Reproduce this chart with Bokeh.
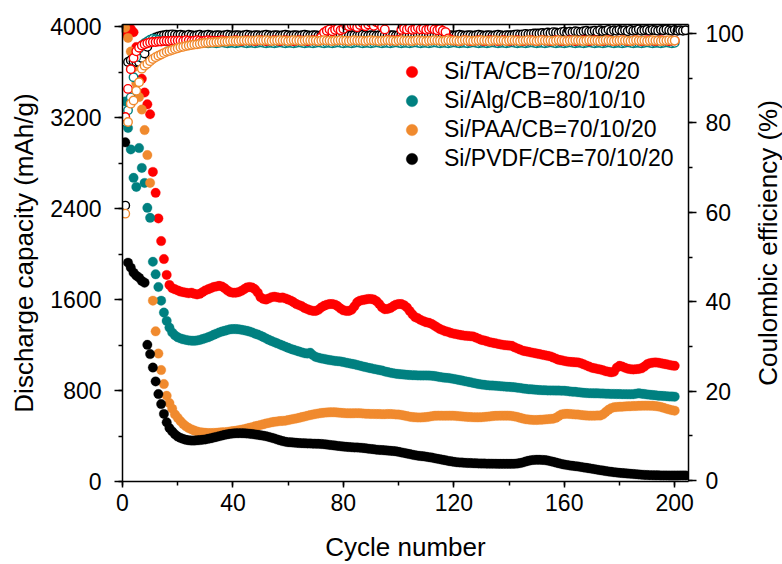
from bokeh.plotting import figure
from bokeh.layouts import row
from bokeh.models import (Range1d, LinearAxis, SingleIntervalTicker, Legend, LegendItem,
                          CustomJSTickFormatter, FixedTicker)
from bokeh.embed import file_html
from bokeh.resources import INLINE

labels = ["Si/TA/CB=70/10/20", "Si/Alg/CB=80/10/10", "Si/PAA/CB=70/10/20", "Si/PVDF/CB=70/10/20"]
colors = ["#FF0000", "#008080", "#F08A2E", "#000000"]

# Discharge capacity (mAh/g), one value per cycle
ta_cap = [
    3940, 3990, 3980, 3950, 3820, 3680, 3540, 3420, 3316, 3229,
    2722, 2538, 2313, 2114, 1956, 1816, 1728, 1700, 1690, 1680,
    1670, 1665, 1660, 1655, 1660, 1650, 1645, 1650, 1665, 1680,
    1690, 1700, 1710, 1715, 1720, 1715, 1700, 1680, 1665, 1660,
    1660, 1665, 1675, 1690, 1705, 1710, 1705, 1690, 1660, 1620,
    1605, 1600, 1610, 1620, 1625, 1620, 1615, 1617, 1610, 1600,
    1590, 1575, 1560, 1550, 1540, 1525, 1515, 1505, 1500, 1500,
    1510, 1530, 1545, 1555, 1560, 1560, 1555, 1540, 1520, 1505,
    1500, 1500, 1510, 1540, 1575, 1590, 1595, 1600, 1605, 1605,
    1600, 1585, 1560, 1530, 1515, 1517, 1525, 1540, 1555, 1560,
    1560, 1550, 1530, 1500, 1470, 1445, 1435, 1420, 1410, 1400,
    1395, 1385, 1370, 1355, 1340, 1330, 1320, 1315, 1305, 1300,
    1295, 1290, 1285, 1282, 1280, 1278, 1275, 1265, 1255, 1245,
    1240, 1232, 1225, 1220, 1215, 1210, 1205, 1200, 1197, 1195,
    1193, 1180, 1170, 1160, 1150, 1145, 1140, 1135, 1130, 1125,
    1120, 1115, 1110, 1105, 1100, 1090, 1080, 1070, 1065, 1060,
    1055, 1052, 1050, 1048, 1047, 1040, 1030, 1020, 1010, 1000,
    995, 990, 985, 978, 970, 965, 960, 965, 1000, 1017,
    1010, 1000, 992, 988, 985, 988, 990, 995, 1010, 1030,
    1040, 1045, 1047, 1045, 1040, 1035, 1030, 1025, 1020, 1017,
]
alg_cap = [
    3342, 3108, 2920, 2670, 2590, 2932, 2757, 2625, 2406, 2318,
    1932, 1822, 1710, 1590, 1485, 1412, 1353, 1310, 1285, 1268,
    1258, 1250, 1245, 1240, 1238, 1237, 1240, 1245, 1252, 1260,
    1268, 1278, 1290, 1300, 1310, 1318, 1325, 1332, 1338, 1340,
    1340, 1338, 1335, 1330, 1325, 1318, 1310, 1300, 1292, 1282,
    1270, 1258, 1246, 1235, 1225, 1215, 1205, 1195, 1185, 1175,
    1166, 1158, 1150, 1142, 1135, 1128, 1125, 1132, 1110, 1095,
    1088, 1082, 1078, 1072, 1068, 1064, 1060, 1058, 1055, 1050,
    1045, 1040, 1035, 1030, 1024, 1018, 1012, 1006, 1000, 995,
    990, 985, 980, 975, 968, 962, 957, 952, 948, 945,
    942, 940, 938, 936, 935, 934, 933, 932, 932, 932,
    931, 930, 927, 923, 918, 915, 912, 910, 906, 902,
    897, 892, 887, 882, 877, 872, 867, 862, 857, 853,
    850, 847, 845, 843, 842, 840, 838, 836, 834, 832,
    830, 828, 825, 822, 818, 815, 812, 810, 808, 806,
    804, 803, 802, 801, 800, 800, 799, 799, 798, 798,
    795, 792, 790, 788, 785, 783, 780, 778, 777, 776,
    775, 775, 774, 773, 772, 771, 770, 770, 769, 769,
    768, 768, 767, 767, 768, 772, 775, 772, 769, 766,
    763, 760, 758, 755, 753, 752, 750, 748, 747, 746,
]
paa_cap = [
    3990, 3900, 3780, 3640, 3500, 3380, 3270, 3090, 2870, 2625,
    1590, 1320, 1125, 980, 857, 754, 690, 640, 590, 560,
    530, 505, 485, 470, 458, 448, 440, 434, 430, 428,
    426, 426, 427, 428, 430, 432, 434, 436, 440, 443,
    446, 450, 455, 460, 466, 472, 478, 485, 491, 497,
    503, 510, 515, 520, 525, 528, 531, 533, 535, 540,
    545, 550, 555, 560, 566, 572, 578, 584, 589, 594,
    598, 602, 605, 607, 608, 609, 608, 606, 604, 602,
    600, 599, 599, 600, 601, 600, 598, 596, 595, 594,
    594, 593, 593, 592, 592, 593, 593, 592, 590, 588,
    585, 580, 575, 570, 566, 564, 563, 563, 564, 566,
    570, 574, 577, 579, 579, 578, 578, 579, 579, 578,
    576, 574, 572, 570, 568, 566, 565, 564, 564, 565,
    567, 570, 572, 575, 577, 578, 579, 579, 579, 579,
    576, 572, 567, 560, 553, 548, 545, 542, 541, 541,
    542, 544, 546, 548, 550, 552, 560, 575, 590, 594,
    595, 594, 592, 590, 588, 585, 582, 580, 579, 579,
    579, 580, 580, 590, 610, 630, 645, 652, 655, 657,
    658, 660, 661, 662, 663, 664, 665, 666, 667, 667,
    666, 665, 663, 660, 655, 648, 640, 633, 627, 623,
]
pvdf_cap = [
    2982, 1924, 1880, 1836, 1810, 1792, 1763, 1748, 1202, 1120,
    1002, 880, 769, 681, 594, 520, 470, 440, 415, 395,
    383, 374, 366, 362, 360, 360, 362, 364, 367, 370,
    375, 380, 386, 392, 398, 404, 410, 415, 419, 422,
    424, 425, 425, 424, 422, 420, 417, 414, 410, 406,
    403, 398, 392, 385, 378, 370, 362, 355, 350, 346,
    344, 342, 340, 338, 337, 336, 335, 334, 333, 332,
    331, 330, 328, 325, 322, 319, 316, 313, 310, 307,
    305, 303, 301, 300, 299, 297, 295, 292, 289, 286,
    283, 280, 278, 276, 274, 272, 270, 268, 265, 261,
    256, 251, 246, 241, 236, 231, 227, 224, 221, 218,
    214, 210, 205, 200, 196, 191, 186, 181, 177, 173,
    170, 168, 166, 164, 163, 162, 161, 160, 159, 158,
    158, 157, 157, 156, 156, 155, 155, 155, 155, 155,
    155, 156, 158, 162, 168, 175, 182, 187, 190, 191,
    191, 190, 188, 184, 179, 173, 166, 160, 154, 149,
    145, 141, 138, 135, 132, 128, 124, 120, 116, 112,
    108, 104, 100, 96, 92, 88, 85, 82, 79, 76,
    74, 72, 70, 68, 66, 64, 62, 60, 58, 57,
    56, 55, 54, 54, 53, 53, 53, 52, 52, 52,
    52, 53, 53, 53,
]

# Coulombic efficiency (%), one value per cycle
ta_ce = [
    81.3, 87.6, 92.0, 94.5, 96.0, 96.8, 97.3, 97.6, 97.8, 98.0,
    98.1, 98.1, 98.2, 98.2, 98.3, 98.3, 98.3, 98.4, 98.4, 98.4,
    98.4, 98.3, 98.5, 98.4, 98.3, 98.4, 98.5, 98.4, 98.3, 98.4,
    98.5, 98.4, 98.4, 98.3, 98.4, 98.5, 98.4, 98.3, 98.4, 98.4,
    98.5, 98.4, 98.3, 98.4, 98.5, 98.4, 98.4, 98.3, 98.4, 98.5,
    98.4, 98.3, 98.4, 98.4, 98.5, 98.4, 98.3, 98.4, 98.5, 98.4,
    98.4, 98.3, 98.4, 98.5, 98.4, 98.4, 98.3, 98.4, 98.5, 98.4,
    98.6, 99.2, 100.2, 100.6, 100.9, 100.5, 100.8, 101.1, 100.7, 101.0,
    101.8, 101.6, 101.9, 101.7, 101.4, 101.9, 102.3, 101.6, 102.0, 102.4,
    101.7, 102.5, 102.2, 101.5, 100.9, 98.6, 98.4, 98.5, 98.4, 98.6,
    100.8, 101.1, 100.9, 101.2, 100.8, 101.0, 101.3, 100.9, 101.1, 100.8,
    101.0, 101.2, 100.9, 100.7, 101.0, 100.6, 100.3, 98.9, 98.6, 98.4,
    98.4, 98.3, 98.4, 98.5, 98.4, 98.3, 98.4, 98.4, 98.5, 98.4,
    98.3, 98.4, 98.5, 98.4, 98.4, 98.3, 98.4, 98.5, 98.4, 98.3,
    98.4, 98.4, 98.5, 98.4, 98.3, 98.4, 98.4, 98.5, 98.4, 98.3,
    98.4, 98.5, 98.4, 98.4, 98.3, 98.4, 98.5, 98.4, 98.3, 98.4,
    98.4, 98.5, 98.4, 98.3, 98.4, 98.4, 98.5, 98.4, 98.3, 98.4,
    98.5, 98.4, 98.4, 98.3, 98.4, 98.5, 98.4, 98.3, 98.4, 98.4,
    98.5, 98.4, 98.3, 98.4, 98.4, 98.5, 98.4, 98.3, 98.4, 98.5,
    98.4, 98.4, 98.3, 98.4, 98.5, 98.4, 98.4, 98.3, 98.4, 98.4,
]
alg_ce = [
    80.2, 82.8, 85.7, 90.2, 94.7, 96.6, 97.3, 97.8, 98.2, 98.6,
    98.8, 98.7, 98.6, 98.4, 98.3, 98.2, 98.1, 98.0, 98.0, 97.9,
    97.9, 97.8, 97.9, 98.0, 97.9, 97.8, 97.9, 97.9, 98.0, 97.9,
    97.8, 97.9, 97.9, 97.8, 97.9, 98.0, 97.9, 97.8, 97.9, 97.9,
    97.8, 97.9, 98.0, 97.9, 97.8, 97.9, 97.9, 97.8, 97.9, 98.0,
    97.9, 97.8, 97.9, 97.9, 97.8, 97.9, 98.0, 97.9, 97.8, 97.9,
    97.9, 97.8, 97.9, 98.0, 97.9, 97.8, 97.9, 97.9, 97.8, 97.9,
    98.0, 97.9, 97.8, 97.9, 97.9, 97.8, 97.9, 98.0, 97.9, 97.8,
    97.9, 97.9, 97.8, 97.9, 98.0, 97.9, 97.8, 97.9, 97.9, 97.8,
    97.9, 98.0, 97.9, 97.8, 97.9, 97.9, 97.8, 97.9, 98.0, 97.9,
    97.8, 97.9, 97.9, 97.8, 97.9, 98.0, 97.9, 97.8, 97.9, 97.9,
    97.8, 97.9, 98.0, 97.9, 97.8, 97.9, 97.9, 97.8, 97.9, 98.0,
    97.9, 97.8, 97.9, 97.9, 97.8, 97.9, 98.0, 97.9, 97.8, 97.9,
    97.9, 97.8, 97.9, 98.0, 97.9, 97.8, 97.9, 97.9, 97.8, 97.9,
    98.0, 97.9, 97.8, 97.9, 97.9, 97.8, 97.9, 98.0, 97.9, 97.8,
    97.9, 97.9, 97.8, 97.9, 98.0, 97.9, 97.8, 97.9, 97.9, 97.8,
    97.9, 98.0, 97.9, 97.8, 97.9, 97.9, 97.8, 97.9, 98.0, 97.9,
    97.8, 97.9, 97.9, 97.8, 97.9, 98.0, 97.9, 97.8, 97.9, 97.9,
    97.8, 97.9, 98.0, 97.9, 97.8, 97.9, 97.9, 97.8, 97.9, 98.0,
    97.9, 97.8, 97.9, 97.9, 97.8, 97.9, 98.0, 97.9, 97.8, 97.9,
]
paa_ce = [
    59.7, 80.2, 84.3, 85.0, 87.2, 89.1, 92.1, 92.8, 93.2, 93.8,
    94.3, 94.7, 95.0, 95.3, 95.6, 95.9, 96.1, 96.3, 96.5, 96.7,
    96.9, 97.0, 97.2, 97.3, 97.4, 97.5, 97.6, 97.7, 97.8, 97.9,
    97.9, 98.0, 98.0, 98.1, 98.1, 98.2, 98.2, 98.2, 98.3, 98.3,
    98.3, 98.3, 98.4, 98.4, 98.4, 98.4, 98.4, 98.4, 98.5, 98.4,
    98.4, 98.5, 98.4, 98.3, 98.4, 98.4, 98.5, 98.4, 98.4, 98.3,
    98.4, 98.5, 98.4, 98.4, 98.3, 98.4, 98.5, 98.4, 98.4, 98.4,
    98.3, 98.4, 98.5, 98.4, 98.4, 98.3, 98.4, 98.4, 98.5, 98.4,
    98.4, 98.3, 98.4, 98.5, 98.4, 98.4, 98.4, 98.3, 98.4, 98.5,
    98.4, 98.4, 98.3, 98.4, 98.4, 98.5, 98.4, 98.4, 98.3, 98.4,
    98.5, 98.4, 98.4, 98.4, 98.3, 98.4, 98.5, 98.4, 98.4, 98.3,
    98.4, 98.4, 98.5, 98.4, 98.4, 98.3, 98.4, 98.5, 98.4, 98.4,
    98.4, 98.3, 98.4, 98.5, 98.4, 98.4, 98.3, 98.4, 98.4, 98.5,
    98.4, 98.4, 98.3, 98.4, 98.5, 98.4, 98.4, 98.4, 98.3, 98.4,
    98.5, 98.4, 98.4, 98.3, 98.4, 98.4, 98.5, 98.4, 98.4, 98.3,
    98.4, 98.5, 98.4, 98.4, 98.4, 98.3, 98.4, 98.5, 98.4, 98.4,
    98.3, 98.4, 98.4, 98.5, 98.4, 98.4, 98.3, 98.4, 98.5, 98.4,
    98.4, 98.4, 98.3, 98.4, 98.5, 98.4, 98.4, 98.3, 98.4, 98.4,
    98.5, 98.4, 98.4, 98.3, 98.4, 98.5, 98.4, 98.4, 98.4, 98.3,
    98.4, 98.5, 98.4, 98.4, 98.3, 98.4, 98.4, 98.5, 98.4, 98.4,
]
pvdf_ce = [
    61.5, 93.6, 94.0, 93.8, 93.6, 93.6, 94.5, 95.5, 97.0, 98.4,
    98.8, 99.1, 99.3, 99.5, 99.6, 99.7, 99.7, 99.8, 99.7, 99.6,
    99.7, 99.6, 99.5, 99.7, 99.6, 99.5, 99.6, 99.7, 99.5, 99.6,
    99.7, 99.6, 99.5, 99.6, 99.6, 99.5, 99.6, 99.7, 99.6, 99.5,
    99.6, 99.6, 99.5, 99.6, 99.7, 99.6, 99.5, 99.6, 99.6, 99.5,
    99.6, 99.7, 99.6, 99.5, 99.6, 99.6, 99.5, 99.6, 99.7, 99.6,
    99.5, 99.6, 99.6, 99.5, 99.6, 99.7, 99.6, 99.5, 99.6, 99.6,
    99.5, 99.6, 99.7, 99.6, 99.5, 99.6, 99.6, 99.5, 99.6, 99.7,
    99.6, 99.5, 99.6, 99.6, 99.5, 99.6, 99.7, 99.6, 99.5, 99.6,
    99.6, 99.5, 99.6, 99.7, 99.6, 99.5, 99.6, 99.6, 99.5, 99.6,
    99.7, 99.6, 99.5, 99.6, 99.6, 99.5, 99.6, 99.7, 99.6, 99.5,
    99.6, 99.6, 99.5, 99.6, 99.7, 99.6, 99.5, 99.6, 99.6, 99.5,
    99.6, 99.7, 99.6, 99.5, 99.6, 99.6, 99.5, 99.6, 99.7, 99.6,
    99.5, 99.6, 99.6, 99.5, 99.6, 99.7, 99.6, 99.5, 99.6, 99.6,
    99.6, 99.7, 99.8, 99.7, 99.8, 99.9, 99.8, 99.9, 100.0, 100.0,
    100.0, 100.1, 100.0, 100.2, 100.1, 100.3, 100.2, 100.1, 100.3, 100.4,
    100.2, 100.4, 100.3, 100.5, 100.4, 100.3, 100.5, 100.6, 100.4, 100.5,
    100.6, 100.4, 100.7, 100.5, 100.6, 100.8, 100.5, 100.7, 100.6, 100.8,
    100.6, 100.7, 100.5, 100.8, 100.6, 100.7, 100.9, 100.6, 100.7, 100.8,
    100.6, 100.8, 100.7, 100.6, 100.8, 100.7, 100.9, 100.7, 100.6, 100.8,
    100.6, 100.7, 100.6, 100.7,
]

cap_series = [ta_cap, alg_cap, paa_cap, pvdf_cap]
ce_series = [ta_ce, alg_ce, paa_ce, pvdf_ce]

FONT = "Liberation Sans"
MAIN_W = 752
TOP_B = 24
BOT_B = 83

p = figure(width=MAIN_W, height=564, output_backend="svg", toolbar_location=None,
           x_range=Range1d(0, 205), y_range=Range1d(0, 4018),
           min_border_left=122, min_border_right=MAIN_W - 688,
           min_border_top=TOP_B, min_border_bottom=BOT_B)
p.extra_y_ranges = {"ce": Range1d(-0.2, 102)}
p.grid.visible = False
p.outline_line_color = None
p.background_fill_color = "white"
p.border_fill_color = "white"

# capacity (filled): red, teal, orange, black (black on top)
cap_renderers = []
for vals, col in zip(cap_series, colors):
    cyc = list(range(1, len(vals) + 1))
    r = p.scatter(cyc, vals, marker="circle", size=9.5, fill_color=col, line_color=col, line_width=0.3)
    cap_renderers.append(r)

# coulombic efficiency (hollow): black, teal, red, orange (orange on top)
for idx in [3, 1, 0, 2]:
    vals = ce_series[idx]
    cyc = list(range(1, len(vals) + 1))
    p.scatter(cyc, vals, y_range_name="ce", marker="circle", size=8.5,
              fill_color="white", line_color=colors[idx], line_width=1.4)

def style_axis(ax):
    ax.axis_line_width = 1.5
    ax.axis_line_color = "black"
    ax.major_tick_line_width = 1.5
    ax.minor_tick_line_width = 1.5
    ax.major_tick_line_color = "black"
    ax.minor_tick_line_color = "black"
    ax.major_label_text_font = FONT
    ax.major_label_text_font_size = "23px"
    ax.major_label_text_color = "black"
    ax.axis_label_text_font = FONT
    ax.axis_label_text_font_size = "26px"
    ax.axis_label_text_font_style = "normal"
    ax.axis_label_text_color = "black"

xa = p.xaxis[0]
xa.ticker = SingleIntervalTicker(interval=40, num_minor_ticks=2)
xa.axis_label = "Cycle number"
style_axis(xa)
xa.major_tick_out = 6
xa.major_tick_in = 0
xa.minor_tick_out = 4
xa.minor_tick_in = 0
xa.major_label_standoff = 6
xa.axis_label_standoff = 18

ya = p.yaxis[0]
ya.ticker = SingleIntervalTicker(interval=800, num_minor_ticks=2)
ya.axis_label = "Discharge capacity (mAh/g)"
style_axis(ya)
ya.major_tick_out = 8
ya.major_tick_in = 0
ya.minor_tick_out = 4
ya.minor_tick_in = 0
ya.major_label_standoff = 13
ya.axis_label_standoff = 8

ra = LinearAxis(y_range_name="ce", ticker=SingleIntervalTicker(interval=20, num_minor_ticks=2))
style_axis(ra)
ra.major_tick_out = 8
ra.major_tick_in = 0
ra.minor_tick_out = 4
ra.minor_tick_in = 0
ra.major_label_standoff = 9
p.add_layout(ra, "right")

ta = LinearAxis(ticker=SingleIntervalTicker(interval=40, num_minor_ticks=2),
                formatter=CustomJSTickFormatter(code="return ''"))
style_axis(ta)
ta.major_tick_in = 8
ta.major_tick_out = 0
ta.minor_tick_in = 4
ta.minor_tick_out = 0
ta.major_label_standoff = 0
p.add_layout(ta, "above")

# legend (glyphs taken from the capacity renderers)
items = [LegendItem(label=lab, renderers=[r]) for lab, r in zip(labels, cap_renderers)]
legend = Legend(items=items, location=(275, 308), padding=0, margin=0, spacing=0,
                glyph_width=29, glyph_height=29, label_height=29, label_standoff=18,
                label_text_font=FONT, label_text_font_size="23px", label_text_color="black",
                background_fill_alpha=0, border_line_color=None)
p.add_layout(legend)

# narrow strip on the right that carries the right-hand axis title (reads bottom to top);
# it is shorter so that its frame centre sits a little higher than the main frame centre
p2 = figure(width=782 - MAIN_W, height=544, output_backend="svg", toolbar_location=None,
            x_range=Range1d(0, 1), y_range=Range1d(0, 1),
            min_border_left=782 - MAIN_W - 1, min_border_right=0,
            min_border_top=TOP_B, min_border_bottom=BOT_B)
p2.grid.visible = False
p2.outline_line_color = None
p2.xaxis.visible = False
p2.background_fill_color = "white"
p2.border_fill_color = "white"
ya2 = p2.yaxis[0]
ya2.ticker = FixedTicker(ticks=[])
ya2.axis_line_color = None
ya2.major_tick_line_color = None
ya2.minor_tick_line_color = None
ya2.major_label_standoff = 0
ya2.axis_label = "Coulombic efficiency (%)"
ya2.axis_label_text_font = FONT
ya2.axis_label_text_font_size = "26px"
ya2.axis_label_text_font_style = "normal"
ya2.axis_label_text_color = "black"
ya2.axis_label_standoff = 0

layout = row(p, p2)
open("out.html", "w").write(file_html(layout, INLINE))
